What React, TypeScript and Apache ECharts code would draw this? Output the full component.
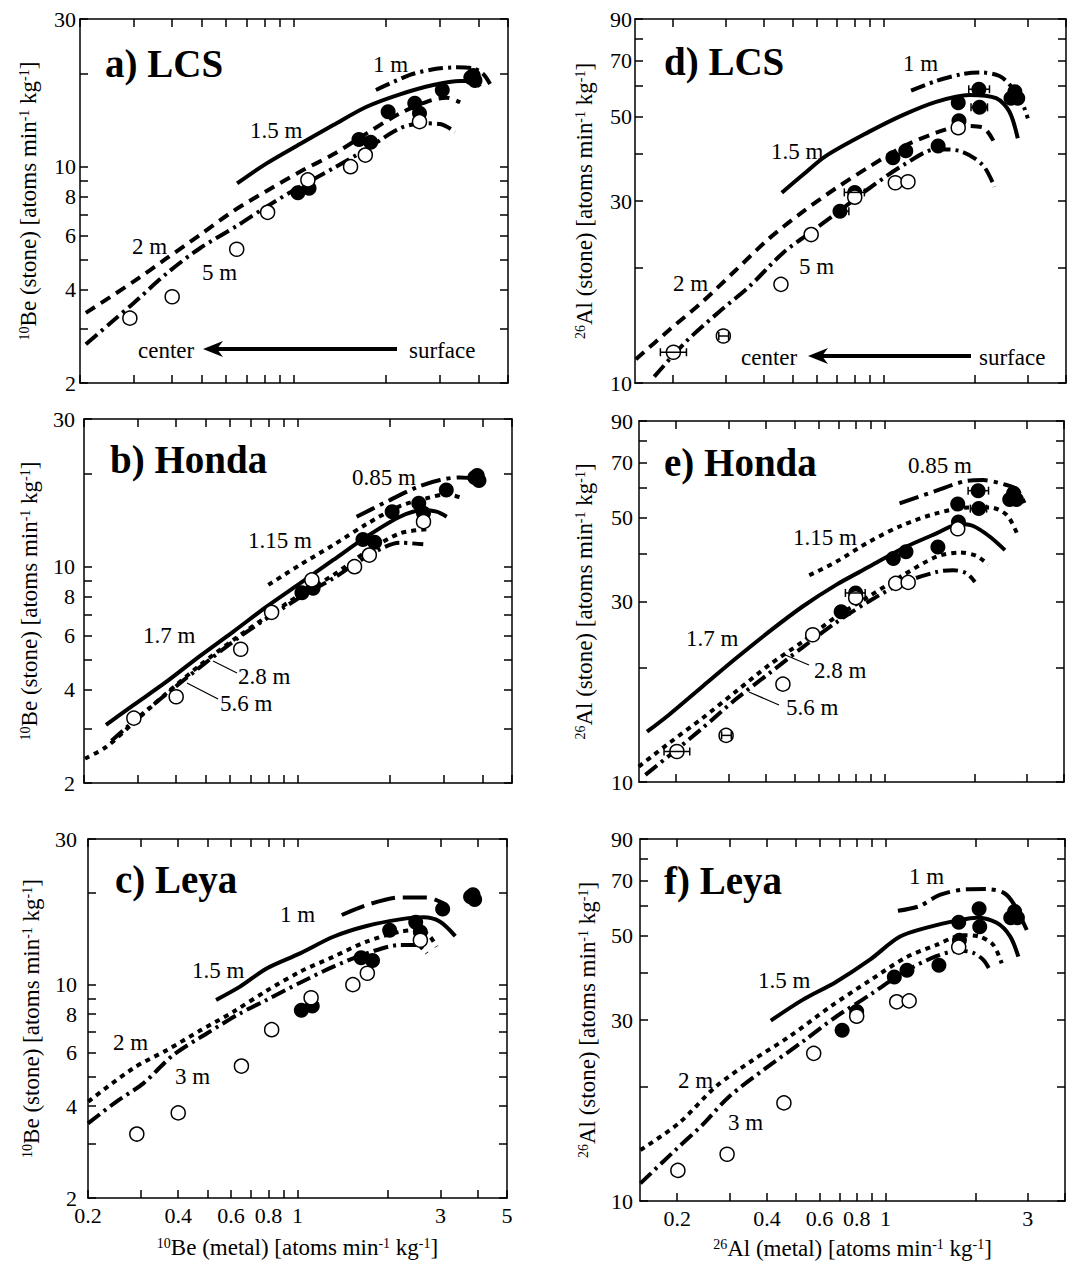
import React, { useEffect, useRef } from 'react';
import * as echarts from 'echarts';

const FONT = '"Liberation Serif", "Times New Roman", Times, serif';

// ---------- axis ticks / labels ----------
const beXTicks = [0.2, 0.3, 0.4, 0.5, 0.6, 0.7, 0.8, 0.9, 1, 2, 3, 4, 5];
const beXLabels = [0.2, 0.4, 0.6, 0.8, 1, 3, 5];
const beYTicks = [2, 3, 4, 5, 6, 7, 8, 9, 10, 20, 30];
const beYLabels = [2, 4, 6, 8, 10, 30];
const alXTicks = [0.2, 0.3, 0.4, 0.5, 0.6, 0.7, 0.8, 0.9, 1, 2, 3, 4];
const alXLabels = [0.2, 0.4, 0.6, 0.8, 1, 3];
const alYTicks = [10, 20, 30, 40, 50, 60, 70, 80, 90];
const alYLabels = [10, 30, 50, 70, 90];
const beXRange = [0.2, 5];
const beYRange = [2, 30];
const alXRange = [0.15, 4];
const alYRange = [10, 90];

// ---------- measured data ----------
const beOpen = [[0.291, 3.24], [0.40, 3.80], [0.65, 5.41], [0.82, 7.12], [1.11, 9.06], [1.53, 10.0], [1.71, 10.9], [2.57, 13.98]];
const beFilled = [[1.03, 8.24], [1.12, 8.51], [1.63, 12.25], [1.78, 12.0], [2.03, 15.06], [2.48, 16.02], [2.57, 14.87], [3.05, 17.7], [3.78, 19.4], [3.9, 19.0], [3.85, 19.7]];
const alOpen = [[0.201, 12.04], [0.294, 13.28], [0.456, 18.14], [0.574, 24.5], [0.80, 30.7], [1.09, 33.5], [1.20, 33.7], [1.76, 46.7]];
const alFilled = [[0.715, 28.2], [0.80, 31.6], [1.07, 38.96], [1.18, 40.6], [1.51, 41.8], [1.76, 54.3], [1.77, 48.7], [2.06, 58.9], [2.07, 52.8], [2.63, 55.8], [2.71, 58.0], [2.77, 55.8]];
// [x low, x high, y]
const alErrors = [[0.182, 0.222, 12.04], [0.284, 0.306, 13.28], [0.69, 0.765, 28.2], [0.739, 0.861, 31.6], [1.907, 2.233, 58.9], [1.94, 2.20, 52.8]];

// ---------- model curves ----------
const lcsBe1 = [[1.852, 17.69], [2.392, 19.78], [2.851, 20.63], [3.40, 20.94], [3.85, 20.79], [4.15, 19.93], [4.37, 18.50]];
const lcsBe15 = [[0.652, 8.83], [0.814, 10.25], [1.046, 11.84], [1.344, 13.63], [1.727, 15.62], [2.219, 17.13], [2.851, 18.36], [3.49, 18.92], [3.85, 18.92], [4.05, 18.14]];
const lcsBe2 = [[0.209, 3.37], [0.299, 4.25], [0.384, 5.06], [0.493, 6.02], [0.634, 7.19], [0.814, 8.35], [1.046, 9.63], [1.344, 10.96], [1.727, 12.81], [2.219, 14.87], [2.78, 16.34], [3.15, 16.71], [3.49, 16.14]];
const lcsBe5 = [[0.209, 2.67], [0.251, 3.12], [0.299, 3.62], [0.384, 4.52], [0.493, 5.45], [0.658, 6.48], [0.814, 7.43], [1.046, 8.62], [1.344, 9.88], [1.727, 11.41], [2.219, 13.30], [2.64, 13.81], [3.0, 13.73], [3.36, 12.97]];

const hBe085 = [[1.554, 14.50], [1.90, 16.02], [2.44, 18.04], [2.91, 19.05], [3.38, 19.43], [3.74, 19.23], [3.98, 18.36]];
const hBe115 = [[0.80, 8.73], [1.015, 10.13], [1.304, 11.75], [1.675, 13.73], [2.153, 15.70], [2.63, 16.63], [3.06, 17.13], [3.38, 16.75]];
const hBe17 = [[0.236, 3.08], [0.290, 3.57], [0.372, 4.25], [0.479, 5.15], [0.615, 6.17], [0.79, 7.43], [1.015, 8.83], [1.304, 10.51], [1.675, 12.50], [2.153, 14.50], [2.565, 15.24], [2.835, 15.06], [3.06, 14.50]];
const hBe28 = [[0.2015, 2.40], [0.237, 2.62], [0.290, 3.13], [0.372, 3.90], [0.479, 4.81], [0.615, 5.80], [0.79, 6.89], [1.015, 8.10], [1.304, 9.40], [1.675, 11.18], [2.153, 12.81], [2.63, 13.20]];
const hBe56 = [[0.246, 2.74], [0.312, 3.36], [0.401, 4.12], [0.646, 5.94], [1.015, 7.96], [1.304, 9.17], [1.675, 10.77], [2.153, 11.95], [2.565, 11.81]];

const lBe1 = [[1.405, 16.91], [1.70, 18.23], [2.198, 19.31], [2.70, 19.31], [3.07, 18.46]];
const lBe15 = [[0.535, 8.91], [0.643, 9.85], [0.789, 11.30], [1.02, 12.66], [1.317, 14.35], [1.70, 15.56], [2.198, 16.36], [2.63, 16.61], [2.99, 16.07], [3.36, 14.42]];
const lBe2 = [[0.2005, 4.14], [0.283, 5.32], [0.366, 6.10], [0.473, 7.07], [0.611, 8.15], [0.789, 9.55], [1.02, 11.02], [1.317, 12.34], [1.70, 13.83], [2.198, 14.90], [2.56, 15.09], [2.77, 14.35], [2.91, 13.31]];
const lBe3 = [[0.2, 3.51], [0.249, 4.14], [0.306, 4.75], [0.385, 5.88], [0.498, 6.92], [0.643, 8.05], [0.789, 8.91], [1.02, 10.15], [1.317, 11.45], [1.70, 12.66], [2.198, 13.48], [2.50, 13.48], [2.70, 12.66]];

const lcsAl1 = [[1.229, 58.4], [1.487, 61.9], [1.822, 64.6], [2.07, 65.2], [2.41, 63.8], [2.63, 60.0], [2.84, 55.2], [2.99, 49.4]];
const lcsAl15 = [[0.459, 31.55], [0.538, 35.1], [0.643, 39.4], [0.894, 45.6], [1.153, 50.4], [1.487, 54.6], [1.917, 56.9], [2.35, 55.8], [2.60, 51.4], [2.77, 43.8]];
const lcsAl2 = [[0.151, 11.54], [0.1946, 13.77], [0.251, 16.34], [0.3236, 19.78], [0.417, 23.94], [0.538, 28.1], [0.693, 32.4], [0.894, 36.9], [1.153, 41.6], [1.487, 45.3], [1.822, 47.2], [2.12, 46.8], [2.35, 41.8]];
const lcsAl5 = [[0.1737, 10.39], [0.221, 12.83], [0.285, 15.38], [0.358, 17.89], [0.462, 21.9], [0.566, 24.7], [0.693, 27.8], [0.894, 32.4], [1.18, 37.6], [1.487, 41.0], [1.776, 40.6], [2.12, 37.3], [2.32, 32.7]];

const hAl085 = [[1.123, 54.5], [1.493, 58.9], [1.884, 62.5], [2.143, 62.8], [2.503, 61.3], [2.775, 59.4], [3.0, 52.9]];
const hAl115 = [[0.559, 35.2], [0.688, 38.2], [0.89, 43.2], [1.153, 47.8], [1.493, 51.3], [1.932, 53.2], [2.257, 53.2], [2.57, 50.8], [2.775, 45.6]];
const hAl17 = [[0.1596, 13.58], [0.1888, 15.04], [0.2444, 17.86], [0.3167, 21.2], [0.41, 24.97], [0.531, 29.1], [0.688, 33.2], [0.89, 37.1], [1.153, 41.5], [1.493, 45.4], [1.789, 48.1], [1.983, 47.5], [2.257, 44.5], [2.535, 41.0]];
const hAl28 = [[0.1497, 10.98], [0.1888, 12.65], [0.2444, 14.73], [0.3167, 17.33], [0.41, 20.38], [0.531, 23.49], [0.688, 27.35], [0.89, 31.0], [1.153, 35.2], [1.493, 39.4], [1.789, 40.4], [2.036, 39.6], [2.228, 37.5]];
const hAl56 = [[0.1576, 10.44], [0.1888, 11.72], [0.2444, 13.86], [0.3167, 16.54], [0.41, 19.37], [0.531, 22.7], [0.688, 26.4], [0.89, 30.1], [1.153, 33.6], [1.493, 35.9], [1.698, 36.3], [1.884, 35.6], [2.01, 33.8]];

const lAl1 = [[1.10, 58.2], [1.302, 59.9], [1.52, 64.1], [1.87, 66.3], [2.183, 66.4], [2.485, 65.0], [2.685, 60.9], [2.977, 51.8]];
const lAl15 = [[0.412, 29.9], [0.527, 33.9], [0.682, 37.8], [0.884, 43.2], [1.115, 49.7], [1.406, 52.8], [1.775, 55.0], [2.02, 55.8], [2.36, 54.1], [2.615, 49.9], [2.79, 44.1]];
const lAl2 = [[0.1505, 13.63], [0.2025, 16.03], [0.269, 20.0], [0.358, 23.5], [0.475, 27.1], [0.648, 32.4], [0.884, 38.1], [1.174, 43.9], [1.48, 47.3], [1.822, 50.2], [2.073, 49.7], [2.30, 47.3], [2.453, 42.3]];
const lAl3 = [[0.1505, 11.13], [0.1973, 13.63], [0.2427, 15.86], [0.2984, 18.83], [0.3965, 22.4], [0.527, 26.3], [0.682, 30.6], [0.884, 34.9], [1.144, 40.0], [1.48, 44.2], [1.775, 45.7], [1.969, 45.1], [2.128, 43.2], [2.24, 40.6]];

// ---------- line styles ----------
const SOLID = 'solid';
const DASH = [11, 7];
const DASHDOT = [15, 5, 3, 5];
const LONGDASHDOT = [20, 6, 4, 6];
const DOT = [5, 5];
const LONGDASH = [24, 8];

const lg = (v: number) => Math.log10(v);
const toLog = (pts: number[][]) => pts.map(([x, y]) => [lg(x), lg(y)]);
const fmt = (v: number) => String(parseFloat(Math.pow(10, v).toPrecision(3)));

const beName = (w: string) => `{s|10}Be (${w}) [atoms min{s|-1} kg{s|-1}]`;
const alName = (w: string) => `{s|26}Al (${w}) [atoms min{s|-1} kg{s|-1}]`;

const panels = [
  { kind: 'be', grid: { left: 80, top: 19, width: 428, height: 364 }, yMargin: 4, yGap: 40, xLabels: false, errors: false,
    curves: [[lcsBe1, DASHDOT], [lcsBe15, SOLID], [lcsBe2, DASH], [lcsBe5, DASHDOT]] },
  { kind: 'be', grid: { left: 84, top: 419, width: 428, height: 364 }, yMargin: 9, yGap: 43, xLabels: false, errors: false,
    curves: [[hBe085, LONGDASHDOT], [hBe115, DOT], [hBe17, SOLID], [hBe28, DOT], [hBe56, DASHDOT]] },
  { kind: 'be', grid: { left: 88, top: 839, width: 419, height: 359 }, yMargin: 11, yGap: 45, xLabels: true, errors: false,
    curves: [[lBe1, LONGDASH], [lBe15, SOLID], [lBe2, DOT], [lBe3, DASHDOT]] },
  { kind: 'al', grid: { left: 635, top: 19, width: 431, height: 364 }, yMargin: 3, yGap: 39, xLabels: false, errors: true,
    curves: [[lcsAl1, DASHDOT], [lcsAl15, SOLID], [lcsAl2, DASH], [lcsAl5, DASHDOT]] },
  { kind: 'al', grid: { left: 639, top: 421, width: 425, height: 361 }, yMargin: 6, yGap: 43, xLabels: false, errors: true,
    curves: [[hAl085, LONGDASHDOT], [hAl115, DOT], [hAl17, SOLID], [hAl28, DOT], [hAl56, DASHDOT]] },
  { kind: 'al', grid: { left: 640, top: 839, width: 425, height: 362 }, yMargin: 7, yGap: 41, xLabels: true, errors: false,
    curves: [[lAl1, LONGDASHDOT], [lAl15, SOLID], [lAl2, DOT], [lAl3, DASHDOT]] },
];

// annotation texts: [text, x, y, size, bold]
const annotations: [string, number, number, number, boolean][] = [
  ['a) LCS', 105, 63, 39, true], ['1 m', 373, 64, 23, false], ['1.5 m', 250, 130, 23, false], ['2 m', 132, 246, 23, false], ['5 m', 202, 272, 23, false],
  ['center', 138, 350, 23, false], ['surface', 409, 350, 23, false],
  ['b) Honda', 110, 459, 39, true], ['0.85 m', 352, 477, 23, false], ['1.15 m', 248, 540, 23, false], ['1.7 m', 143, 635, 23, false], ['2.8 m', 238, 676, 23, false], ['5.6 m', 220, 703, 23, false],
  ['c) Leya', 115, 879, 39, true], ['1 m', 280, 914, 23, false], ['1.5 m', 192, 970, 23, false], ['2 m', 113, 1042, 23, false], ['3 m', 175, 1076, 23, false],
  ['d) LCS', 664, 61, 39, true], ['1 m', 903, 63, 23, false], ['1.5 m', 771, 151, 23, false], ['2 m', 673, 283, 23, false], ['5 m', 799, 266, 23, false],
  ['center', 741, 357, 23, false], ['surface', 979, 357, 23, false],
  ['e) Honda', 664, 462, 39, true], ['0.85 m', 908, 465, 23, false], ['1.15 m', 793, 537, 23, false], ['1.7 m', 686, 638, 23, false], ['2.8 m', 814, 670, 23, false], ['5.6 m', 786, 707, 23, false],
  ['f) Leya', 664, 880, 39, true], ['1 m', 909, 876, 23, false], ['1.5 m', 758, 980, 23, false], ['2 m', 678, 1080, 23, false], ['3 m', 728, 1122, 23, false],
];
// leader lines [x1,y1,x2,y2]
const leaders = [[213, 661, 237, 673], [187, 683, 218, 699], [783, 654, 809, 665], [749, 692, 779, 705]];
// arrows: [tailX, tipX, y]
const arrows = [[397, 203, 349], [971, 808, 356]];

function buildOption() {
  const grid: any[] = [];
  const xAxis: any[] = [];
  const yAxis: any[] = [];
  const series: any[] = [];
  const textBase = { fontFamily: FONT, color: '#000', fontSize: 22 };
  const nameBase = { fontFamily: FONT, color: '#000', fontSize: 23 };
  const rich = { s: { fontFamily: FONT, color: '#000', fontSize: 14, verticalAlign: 'top' } };

  panels.forEach((p, i) => {
    const be = p.kind === 'be';
    const xr = be ? beXRange : alXRange;
    const yr = be ? beYRange : alYRange;
    const xt = be ? beXTicks : alXTicks;
    const xl = be ? beXLabels : alXLabels;
    const yt = be ? beYTicks : alYTicks;
    const yl = be ? beYLabels : alYLabels;
    grid.push({ ...p.grid, containLabel: false, outerBoundsMode: 'none' });
    const lineS = { show: true, onZero: false, lineStyle: { color: '#000', width: 1.5 } };
    const tickS = (vals: number[]) => ({ show: true, inside: true, length: 8, customValues: vals.map(lg), lineStyle: { color: '#000', width: 1.5 } });
    xAxis.push({
      type: 'value', gridIndex: i, position: 'bottom', min: lg(xr[0]), max: lg(xr[1]),
      splitLine: { show: false }, axisLine: lineS, axisTick: tickS(xt),
      axisLabel: { show: p.xLabels, customValues: xl.map(lg), formatter: fmt, margin: 6, ...textBase },
      name: p.xLabels ? (be ? beName('metal') : alName('metal')) : '',
      nameLocation: 'middle', nameGap: be ? 38 : 36,
      nameTextStyle: { ...nameBase, rich },
    });
    xAxis.push({
      type: 'value', gridIndex: i, position: 'top', min: lg(xr[0]), max: lg(xr[1]),
      splitLine: { show: false }, axisLine: lineS, axisTick: tickS(xt), axisLabel: { show: false },
    });
    yAxis.push({
      type: 'value', gridIndex: i, position: 'left', min: lg(yr[0]), max: lg(yr[1]),
      splitLine: { show: false }, axisLine: lineS, axisTick: tickS(yt),
      axisLabel: { show: true, customValues: yl.map(lg), formatter: fmt, margin: p.yMargin, ...textBase },
      name: be ? beName('stone') : alName('stone'),
      nameLocation: 'middle', nameRotate: 90, nameGap: p.yGap,
      nameTextStyle: { ...nameBase, rich },
    });
    yAxis.push({
      type: 'value', gridIndex: i, position: 'right', min: lg(yr[0]), max: lg(yr[1]),
      splitLine: { show: false }, axisLine: lineS, axisTick: tickS(yt), axisLabel: { show: false },
    });

    p.curves.forEach(([data, dash]: any) => {
      series.push({
        type: 'line', xAxisIndex: 2 * i, yAxisIndex: 2 * i, data: toLog(data),
        showSymbol: false, symbol: 'none', smooth: 0.3, silent: true, z: 2,
        lineStyle: { color: '#000', width: 4, type: dash, cap: 'butt', opacity: 1 },
      });
    });
    series.push({
      type: 'scatter', xAxisIndex: 2 * i, yAxisIndex: 2 * i, data: toLog(be ? beFilled : alFilled),
      symbol: 'circle', symbolSize: 15, z: 3, silent: true, itemStyle: { color: '#000', opacity: 1 },
    });
    series.push({
      type: 'scatter', xAxisIndex: 2 * i, yAxisIndex: 2 * i, data: toLog(be ? beOpen : alOpen),
      symbol: 'circle', symbolSize: 14, z: 4, silent: true,
      itemStyle: { color: '#fff', borderColor: '#000', borderWidth: 1.5, opacity: 1 },
    });
    if (p.errors) {
      series.push({
        type: 'custom', xAxisIndex: 2 * i, yAxisIndex: 2 * i, z: 5, silent: true,
        data: alErrors.map(([a, b, y]) => [lg(a), lg(b), lg(y)]),
        encode: { x: [0, 1], y: 2 },
        renderItem: (params: any, api: any) => {
          const p1 = api.coord([api.value(0), api.value(2)]);
          const p2 = api.coord([api.value(1), api.value(2)]);
          const st = { stroke: '#000', lineWidth: 1.5 };
          return {
            type: 'group',
            children: [
              { type: 'line', shape: { x1: p1[0], y1: p1[1], x2: p2[0], y2: p2[1] }, style: st },
              { type: 'line', shape: { x1: p1[0], y1: p1[1] - 4, x2: p1[0], y2: p1[1] + 4 }, style: st },
              { type: 'line', shape: { x1: p2[0], y1: p2[1] - 4, x2: p2[0], y2: p2[1] + 4 }, style: st },
            ],
          };
        },
      });
    }
  });

  const graphic: any[] = [];
  annotations.forEach(([text, x, y, size, bold]) => {
    graphic.push({
      type: 'text', x, y, silent: true, z: 100,
      style: {
        text, fill: '#000', fontSize: size, fontWeight: bold ? 'bold' : 'normal', fontFamily: FONT,
        textAlign: 'left', textVerticalAlign: 'middle', align: 'left', verticalAlign: 'middle',
      },
    });
  });
  leaders.forEach(([x1, y1, x2, y2]) => {
    graphic.push({ type: 'line', silent: true, z: 100, shape: { x1, y1, x2, y2 }, style: { stroke: '#000', lineWidth: 1.2 } });
  });
  arrows.forEach(([tail, tip, y]) => {
    graphic.push({ type: 'line', silent: true, z: 100, shape: { x1: tail, y1: y, x2: tip + 12, y2: y }, style: { stroke: '#000', lineWidth: 4 } });
    graphic.push({
      type: 'polygon', silent: true, z: 100,
      shape: { points: [[tip, y], [tip + 20, y - 8], [tip + 14, y], [tip + 20, y + 8]] },
      style: { fill: '#000' },
    });
  });

  return { animation: false, backgroundColor: '#fff', grid, xAxis, yAxis, series, graphic };
}

export default function App() {
  const ref = useRef<HTMLDivElement>(null);
  useEffect(() => {
    if (!ref.current) return;
    const chart = echarts.init(ref.current, undefined, { renderer: 'svg' });
    chart.setOption(buildOption() as any);
    return () => chart.dispose();
  }, []);
  return (
    <div style={{ position: 'absolute', left: 0, top: 0, width: 1072, height: 1269, overflow: 'hidden', background: '#fff' }}>
      <div ref={ref} style={{ width: 1072, height: 1269 }} />
    </div>
  );
}
